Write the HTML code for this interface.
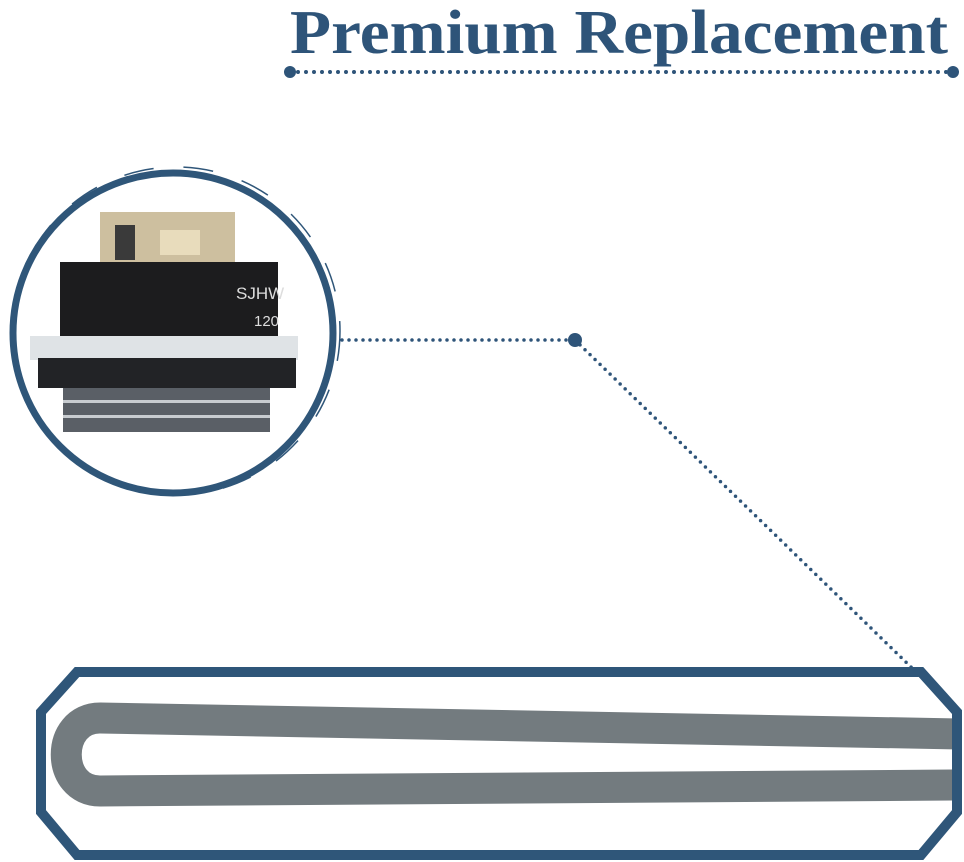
<!DOCTYPE html>
<html><head><style>html,body{margin:0;padding:0;background:#fff;width:964px;height:862px;overflow:hidden}</style></head>
<body>
<svg width="964" height="862" viewBox="0 0 964 862" xmlns="http://www.w3.org/2000/svg">
<defs><clipPath id="c"><circle cx="173" cy="333" r="158"/></clipPath>
<clipPath id="o"><polygon points="77,677 921,677 953,712 953,812 921,851 77,851 45,812 45,712"/></clipPath></defs>
<text x="290" y="53" font-family="Liberation Serif" font-weight="bold" font-size="62" fill="#2e5479" textLength="658" lengthAdjust="spacingAndGlyphs">Premium Replacement</text>
<line x1="290" y1="72" x2="953" y2="72" stroke="#2e5479" stroke-width="4" stroke-dasharray="0 8" stroke-linecap="round"/>
<circle cx="290" cy="72" r="6" fill="#2e5479"/><circle cx="953" cy="72" r="6" fill="#2e5479"/>
<g clip-path="url(#c)">
<rect x="100" y="212" width="135" height="52" fill="#cdbf9f"/>
<rect x="115" y="225" width="20" height="35" fill="#3a3a3a"/>
<rect x="160" y="230" width="40" height="25" fill="#e8dcbc"/>
<rect x="60" y="262" width="218" height="76" fill="#1c1c1e"/>
<text x="236" y="299" font-family="Liberation Sans" font-size="17" fill="#ddd">SJHW</text>
<text x="254" y="326" font-family="Liberation Sans" font-size="15" fill="#ddd">120</text>
<rect x="30" y="336" width="268" height="24" fill="#dfe3e6"/>
<rect x="38" y="358" width="258" height="30" fill="#222326"/>
<rect x="63" y="388" width="207" height="44" fill="#5a5f66"/>
<rect x="63" y="400" width="207" height="3" fill="#c8ccd0"/>
<rect x="63" y="415" width="207" height="3" fill="#c8ccd0"/>
</g>
<circle cx="173" cy="333" r="160" fill="none" stroke="#2f5679" stroke-width="7"/>
<circle cx="176" cy="331" r="164" fill="none" stroke="#2f5679" stroke-width="1.5" stroke-dasharray="30 30"/>
<line x1="342" y1="340" x2="575" y2="340" stroke="#2e5479" stroke-width="3.5" stroke-dasharray="0 7" stroke-linecap="round"/>
<circle cx="575" cy="340" r="7" fill="#2e5479"/>
<line x1="575" y1="340" x2="912" y2="668" stroke="#2e5479" stroke-width="3.5" stroke-dasharray="0 7" stroke-linecap="round"/>
<g clip-path="url(#o)">
<path d="M960,734 L100,718 C55,718 55,791 100,791 L960,785" fill="none" stroke="#737b7f" stroke-width="31"/>
</g>
<polygon points="77,672 921,672 957,712 957,812 921,855 77,855 41,812 41,712" fill="none" stroke="#2f5679" stroke-width="10" stroke-linejoin="miter"/>
</svg>
</body></html>
